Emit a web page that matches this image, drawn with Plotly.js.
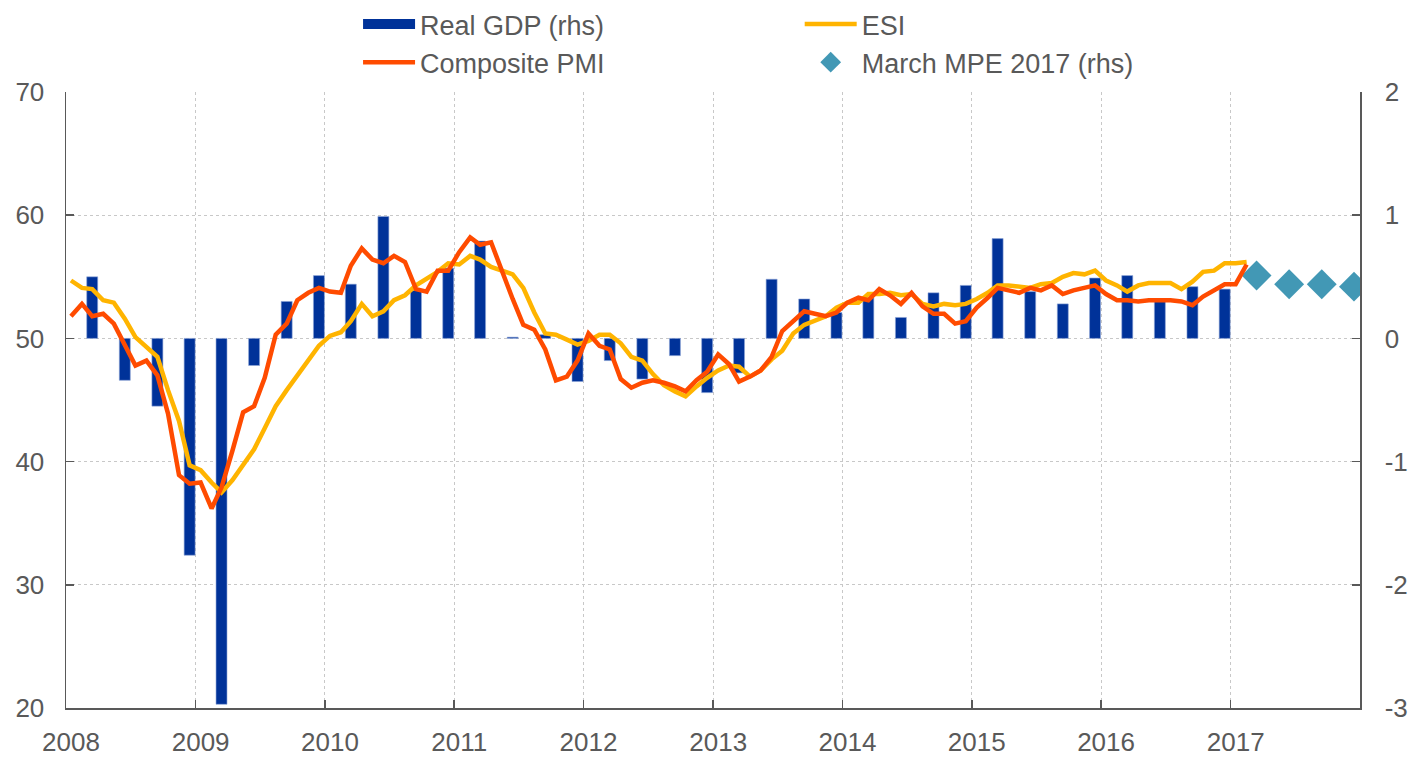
<!DOCTYPE html>
<html>
<head>
<meta charset="utf-8">
<script src="https://cdn.plot.ly/plotly-3.0.1.min.js"></script>
<style>
html,body{margin:0;padding:0;background:#ffffff;}
#chart{width:1422px;height:758px;}
</style>
</head>
<body>
<div id="chart"></div>
<script>
// ---- Data ----
// Quarterly real GDP growth (q-o-q %, rhs), 2008Q1 .. 2016Q4
const gdpQuarters = [
  '2008Q1','2008Q2','2008Q3','2008Q4',
  '2009Q1','2009Q2','2009Q3','2009Q4',
  '2010Q1','2010Q2','2010Q3','2010Q4',
  '2011Q1','2011Q2','2011Q3','2011Q4',
  '2012Q1','2012Q2','2012Q3','2012Q4',
  '2013Q1','2013Q2','2013Q3','2013Q4',
  '2014Q1','2014Q2','2014Q3','2014Q4',
  '2015Q1','2015Q2','2015Q3','2015Q4',
  '2016Q1','2016Q2','2016Q3','2016Q4'
];
const gdpValues = [
  0.50, -0.34, -0.55, -1.76,
  -2.97, -0.22, 0.30, 0.51,
  0.44, 0.99, 0.39, 0.57,
  0.79, 0.01, 0.03, -0.35,
  -0.18, -0.33, -0.14, -0.44,
  -0.28, 0.48, 0.32, 0.21,
  0.33, 0.17, 0.37, 0.43,
  0.81, 0.38, 0.28, 0.49,
  0.51, 0.30, 0.42, 0.40
];

// March 2017 ECB staff macroeconomic projections (rhs)
const mpeQuarters = ['2017Q1','2017Q2','2017Q3','2017Q4'];
const mpeValues = [0.51, 0.44, 0.44, 0.42];

// Monthly series, Jan 2008 .. Feb 2017
const monthlyStart = {year: 2008, month: 1};
const esiValues = [
  54.7, 54.1, 54.0, 53.1, 52.9, 51.6, 50.1, 49.3, 48.5, 45.8, 43.3, 39.7,
  39.3, 38.3, 37.5, 38.5, 39.7, 41.0, 42.7, 44.5, 45.8, 47.0, 48.3, 49.4,
  50.2, 50.5, 51.4, 52.8, 51.8, 52.2, 53.1, 53.5, 54.3, 54.8, 55.4, 56.1,
  56.0, 56.7, 56.4, 55.8, 55.5, 55.2, 54.1, 52.1, 50.4, 50.3, 49.9, 49.5,
  49.8, 50.3, 50.3, 49.6, 48.5, 48.2, 47.1, 46.2, 45.7, 45.3, 46.1, 46.8,
  47.4, 47.8, 47.7, 46.9, 47.4, 48.3, 49.0, 50.4, 51.1, 51.4, 51.8, 52.5,
  52.9, 52.9, 53.6, 53.6, 53.7, 53.5, 53.6, 52.8, 52.6, 52.8, 52.7, 52.8,
  53.2, 53.7, 54.3, 54.3, 54.2, 54.1, 54.4, 54.5, 55.0, 55.3, 55.2, 55.5,
  54.7, 54.3, 53.8, 54.3, 54.5, 54.5, 54.5, 54.0, 54.6, 55.4, 55.5, 56.1,
  56.1, 56.2
];
const pmiValues = [
  51.8, 52.8, 51.8, 52.0, 51.2, 49.4, 47.8, 48.2, 47.0, 43.9, 38.9, 38.2,
  38.3, 36.2, 37.9, 40.9, 44.0, 44.5, 46.8, 50.3, 51.2, 53.1, 53.7, 54.1,
  53.8, 53.7, 55.9, 57.3, 56.4, 56.1, 56.7, 56.2, 54.0, 53.8, 55.5, 55.5,
  57.0, 58.2, 57.6, 57.8, 55.5, 53.2, 51.1, 50.7, 49.1, 46.6, 46.9, 48.2,
  50.4, 49.4, 49.1, 46.7, 46.0, 46.4, 46.6, 46.4, 46.1, 45.7, 46.6, 47.3,
  48.7, 47.9, 46.5, 46.9, 47.4, 48.5, 50.6, 51.4, 52.2, 52.0, 51.8, 52.1,
  52.9, 53.3, 53.1, 54.0, 53.5, 52.8, 53.7, 52.6, 52.0, 52.0, 51.2, 51.4,
  52.5, 53.3, 54.1, 53.9, 53.7, 54.1, 53.9, 54.3, 53.6, 53.9, 54.1, 54.3,
  53.6, 53.1, 53.1, 53.0, 53.1, 53.1, 53.1, 53.0, 52.7, 53.4, 53.9, 54.4,
  54.4, 56.0
];

const yearTicks = ['2008','2009','2010','2011','2012','2013','2014','2015','2016','2017'];
const rhsTicks = [-3, -2, -1, 0, 1, 2];
const rhsTickText = ['-3', '-2', '-1', '0', '1', '2'];
const lhsTicks = [20, 30, 40, 50, 60, 70];

// ---- Helpers (date placement only) ----
function pad(n){ return (n < 10 ? '0' : '') + n; }
function quarterDate(q){
  const y = q.slice(0,4), n = +q.slice(5);
  return y + '-' + pad(n*3) + '-15';
}
function monthDates(n){
  const out = [];
  for (let i = 0; i < n; i++){
    const m = monthlyStart.month - 1 + i;
    out.push((monthlyStart.year + Math.floor(m/12)) + '-' + pad(m%12 + 1) + '-15');
  }
  return out;
}

const grey = '#595959';
const fontFamily = 'Liberation Sans, Arial, sans-serif';
const gdpColor = '#003299';

const traces = [
  {
    type: 'bar', name: 'Real GDP (rhs)',
    x: gdpQuarters.map(quarterDate), y: gdpValues,
    width: 31*24*3600*1000,
    marker: {color: gdpColor, line: {color: '#8fa6d6', width: 0.6}},
    yaxis: 'y', showlegend: false
  },
  { // legend swatch for the GDP bars (no data)
    type: 'scatter', mode: 'lines', name: 'Real GDP (rhs)',
    x: [null], y: [null],
    line: {color: gdpColor, width: 20},
    yaxis: 'y', legend: 'legend', legendgroup: 'g1'
  },
  {
    type: 'scatter', mode: 'lines', name: 'ESI',
    x: monthDates(esiValues.length), y: esiValues,
    line: {color: '#FFB400', width: 4.5},
    yaxis: 'y2', legend: 'legend2', legendgroup: 'g2'
  },
  {
    type: 'scatter', mode: 'lines', name: 'Composite PMI',
    x: monthDates(pmiValues.length), y: pmiValues,
    line: {color: '#FF4B00', width: 4.5},
    yaxis: 'y2', legend: 'legend', legendgroup: 'g3'
  },
  {
    type: 'scatter', mode: 'markers', name: 'March MPE 2017 (rhs)',
    x: mpeQuarters.map(quarterDate), y: mpeValues,
    marker: {symbol: 'diamond', size: 23, color: '#4298b5'},
    yaxis: 'y', legend: 'legend2', legendgroup: 'g4'
  }
];

const legendCommon = {
  orientation: 'v', xanchor: 'left', yanchor: 'top',
  xref: 'paper', yref: 'container', y: 1,
  font: {family: fontFamily, size: 27, color: grey},
  bgcolor: 'rgba(0,0,0,0)', tracegroupgap: 0, itemwidth: 52,
  traceorder: 'grouped'
};

const layout = {
  width: 1422, height: 758,
  margin: {l: 66, r: 62, t: 92, b: 50},
  paper_bgcolor: '#ffffff', plot_bgcolor: '#ffffff',
  font: {family: fontFamily, size: 26, color: grey},
  showlegend: true,
  bargap: 0,
  legend: Object.assign({}, legendCommon, {x: 0.2257}),
  legend2: Object.assign({}, legendCommon, {x: 0.567}),
  xaxis: {
    type: 'date', range: ['2008-01-01', '2018-01-01'],
    tickvals: yearTicks.map(y => y + '-01-01'), ticktext: yearTicks,
    showgrid: true, gridcolor: '#c8c8c8', griddash: 'dot', gridwidth: 1,
    ticks: 'inside', ticklen: 8, tickcolor: grey, tickwidth: 1.5,
    showline: true, linecolor: grey, linewidth: 1.5,
    tickfont: {family: fontFamily, size: 26, color: grey},
    ticklabelstandoff: 10, ticklabelshift: 5,
    zeroline: false, fixedrange: true
  },
  yaxis: {
    range: [-3, 2], side: 'right',
    tickvals: rhsTicks, ticktext: rhsTickText,
    showgrid: true, gridcolor: '#c8c8c8', griddash: 'dot', gridwidth: 1,
    ticks: 'inside', ticklen: 8, tickcolor: grey, tickwidth: 1.5,
    showline: true, linecolor: grey, linewidth: 1.5,
    tickfont: {family: fontFamily, size: 26, color: grey},
    ticklabelstandoff: 18,
    zeroline: false, fixedrange: true
  },
  yaxis2: {
    range: [20, 70], side: 'left', overlaying: 'y',
    tickvals: lhsTicks,
    showgrid: false,
    ticks: 'inside', ticklen: 8, tickcolor: grey, tickwidth: 1.5,
    showline: true, linecolor: grey, linewidth: 1.5,
    tickfont: {family: fontFamily, size: 26, color: grey},
    ticklabelstandoff: 15,
    zeroline: false, fixedrange: true
  }
};

Plotly.newPlot('chart', traces, layout, {displayModeBar: false, staticPlot: true});
</script>
</body>
</html>
